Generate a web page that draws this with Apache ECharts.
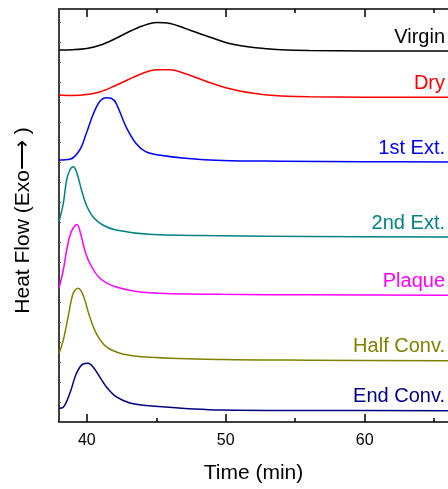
<!DOCTYPE html>
<html><head><meta charset="utf-8">
<script src="https://cdn.jsdelivr.net/npm/echarts@6/dist/echarts.min.js"></script>
<style>html,body{margin:0;padding:0;background:#fff}#c{width:448px;height:489px}</style>
</head><body><div id="c"></div>
<script>
// ---- data (time in min, heat flow in arbitrary stacked units) ----
const seriesNames = ['Virgin', 'Dry', '1st Ext.', '2nd Ext.', 'Plaque', 'Half Conv.', 'End Conv.'];
const seriesColors = ['#000000', '#ff0000', '#0000ff', '#008080', '#ff00ff', '#808000', '#000080'];

const virginTime = [38, 39, 40, 41, 42, 43, 44, 45, 46, 47, 48, 49, 50, 51, 52, 53, 54, 56, 60, 66];
const virginFlow = [37.2, 37.23, 37.35, 37.7, 38.3, 39.0, 39.6, 39.95, 39.85, 39.4, 38.9, 38.43, 37.95, 37.65, 37.45, 37.32, 37.22, 37.15, 37.1, 37.1];

const dryTime = [38, 39, 40, 41, 42, 43, 44, 45, 46, 47, 48, 49, 50, 51, 52, 53, 54, 56, 60, 66];
const dryFlow = [32.7, 32.64, 32.75, 33.03, 33.6, 34.25, 34.85, 35.22, 35.23, 34.87, 34.37, 33.87, 33.42, 33.1, 32.87, 32.7, 32.6, 32.52, 32.48, 32.47];

const ext1Time = [38.0, 38.78, 39.49, 39.97, 40.44, 40.92, 41.40, 41.75, 42.11, 42.82, 43.53, 44.24, 45.19, 47.09, 49.74, 54.0, 60.0, 66.0];
const ext1Flow = [26.2, 26.27, 27.2, 28.87, 30.7, 32.03, 32.43, 32.37, 31.87, 29.53, 27.87, 27.03, 26.7, 26.37, 26.15, 26.08, 26.03, 26.0];

const ext2Time = [38.0, 38.31, 38.55, 38.78, 39.02, 39.26, 39.62, 39.97, 40.44, 41.15, 42.11, 44.48, 49.74, 56.0, 66.0];
const ext2Flow = [20.03, 21.87, 24.2, 25.2, 25.53, 25.03, 23.2, 21.7, 20.53, 19.7, 19.2, 18.77, 18.62, 18.55, 18.5];

const plaqueTime = [38.0, 38.31, 38.55, 38.78, 39.02, 39.30, 39.56, 39.85, 40.21, 40.92, 42.11, 44.48, 49.74, 56.0, 66.0];
const plaqueFlow = [13.4, 15.2, 17.2, 18.6, 19.4, 19.75, 18.8, 17.2, 15.9, 14.4, 13.5, 12.93, 12.77, 12.72, 12.67];

const halfTime = [38.0, 38.31, 38.66, 39.02, 39.37, 39.73, 40.21, 40.68, 41.40, 42.58, 44.48, 49.74, 56.0, 66.0];
const halfFlow = [6.87, 8.2, 10.53, 12.87, 13.37, 12.7, 10.53, 8.87, 7.53, 6.8, 6.47, 6.25, 6.18, 6.13];

const endTime = [38.0, 38.31, 38.78, 39.26, 39.73, 40.09, 40.44, 40.92, 41.40, 42.11, 43.05, 44.48, 49.74, 56.0, 66.0];
const endFlow = [1.37, 1.47, 2.87, 4.87, 5.8, 5.87, 5.53, 4.53, 3.53, 2.53, 1.93, 1.63, 1.2, 1.15, 1.13];

const majorTicks = [40, 50, 60];
const minorTicks = [45, 55, 65];
const xMin = 38, xMax = 66;
const yMin = 0, yMax = 41.3;

// ---- chart ----
const times = [virginTime, dryTime, ext1Time, ext2Time, plaqueTime, halfTime, endTime];
const flows = [virginFlow, dryFlow, ext1Flow, ext2Flow, plaqueFlow, halfFlow, endFlow];
const FONT = '"Liberation Sans", Arial, Helvetica, sans-serif';

const chart = echarts.init(document.getElementById('c'), null, {renderer: 'canvas'});

function xAx(pos, ticks, len, showLine, showLabel) {
  return {
    type: 'value', position: pos, min: xMin, max: xMax,
    axisLine: {show: showLine, lineStyle: {color: '#000', width: 1.5}},
    axisTick: {show: true, inside: true, length: len, customValues: ticks, lineStyle: {color: '#000', width: 1.5}},
    axisLabel: {show: showLabel, customValues: ticks, color: '#000', fontSize: 16, fontFamily: FONT, margin: 11},
    splitLine: {show: false}
  };
}

const xAxes = [
  Object.assign(xAx('bottom', majorTicks, 8, true, true), {
    name: 'Time (min)', nameLocation: 'middle', nameGap: 41,
    nameTextStyle: {fontSize: 21, color: '#000', fontFamily: FONT}
  }),
  xAx('top', majorTicks, 8, true, false),
  xAx('bottom', minorTicks, 4, false, false),
  xAx('top', minorTicks, 4, false, false)
];

const series = seriesNames.map((name, i) => ({
  name: name, type: 'line', xAxisIndex: 0, yAxisIndex: 0,
  data: times[i].map((t, k) => [t, flows[i][k]]),
  showSymbol: false, symbol: 'none', smooth: 0.35,
  lineStyle: {color: seriesColors[i], width: 1.5},
  itemStyle: {color: seriesColors[i]},
  clip: true
}));

chart.setOption({
  animation: false,
  backgroundColor: '#fff',
  grid: {left: 59, top: 9, width: (xMax - xMin) * 14.05, height: 413, containLabel: false},
  xAxis: xAxes,
  yAxis: [{
    type: 'value', min: yMin, max: yMax, interval: 2,
    name: 'Heat Flow (Exo\u27F6 )', nameLocation: 'middle', nameGap: 25,
    nameTextStyle: {fontSize: 21, color: '#000', fontFamily: FONT, padding: [0, 10, 0, 0]},
    axisLine: {show: true, lineStyle: {color: '#000', width: 1.5}},
    axisTick: {show: true, inside: true, length: 2, lineStyle: {color: '#555', width: 1}},
    axisLabel: {show: false},
    splitLine: {show: false}
  }],
  series: series
});

const labels = seriesNames.map((name, i) => {
  const last = flows[i][flows[i].length - 1];
  const p = chart.convertToPixel({xAxisIndex: 0, yAxisIndex: 0}, [xMax, last]);
  return {
    type: 'text', x: p[0] - 3, y: p[1] - 14, z: 10,
    style: {text: name, fill: seriesColors[i], fontSize: 20, fontFamily: FONT, align: 'right', verticalAlign: 'middle'}
  };
});
chart.setOption({graphic: labels});
</script>
</body></html>
